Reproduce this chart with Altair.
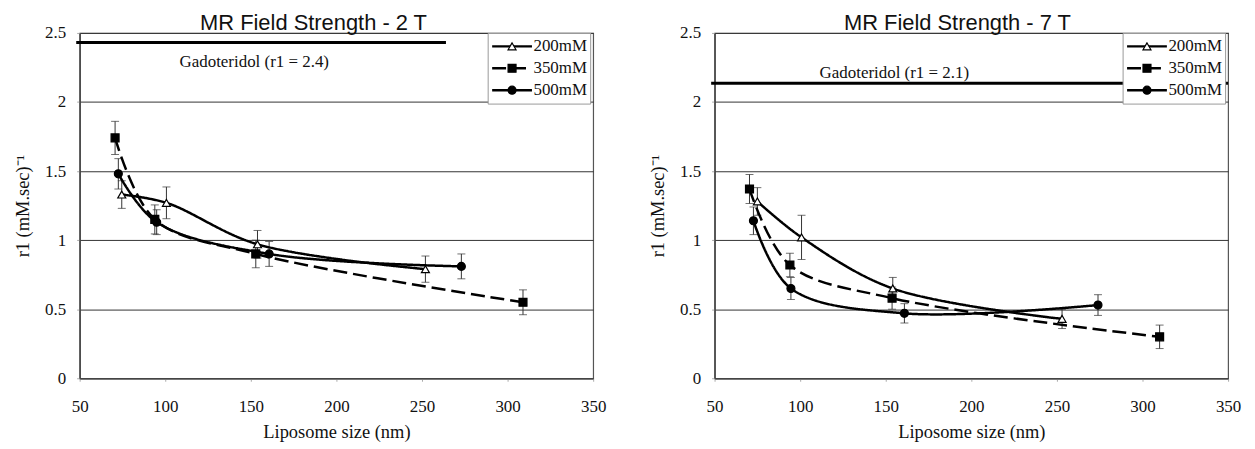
import altair as alt
import pandas as pd

concs = ["200mM", "350mM", "500mM"]
x_ticks = [50, 100, 150, 200, 250, 300, 350]
y_ticks = [0, 0.5, 1, 1.5, 2, 2.5]

# ---- 2 T panel ----
t2_size_200 = [74.6, 100.7, 153.9, 252.0]
t2_r1_200 = [1.33, 1.27, 0.97, 0.79]
t2_err_200 = [0.10, 0.115, 0.10, 0.095]
t2_size_350 = [70.7, 93.9, 152.9, 309.0]
t2_r1_350 = [1.74, 1.15, 0.90, 0.55]
t2_err_350 = [0.12, 0.105, 0.10, 0.09]
t2_size_500 = [72.6, 95.0, 160.7, 273.0]
t2_r1_500 = [1.48, 1.13, 0.90, 0.81]
t2_err_500 = [0.11, 0.09, 0.09, 0.09]

# ---- 7 T panel ----
t7_size_200 = [75.0, 100.8, 154.1, 253.0]
t7_r1_200 = [1.28, 1.02, 0.65, 0.43]
t7_err_200 = [0.10, 0.16, 0.08, 0.07]
t7_size_350 = [70.4, 94.0, 153.7, 310.0]
t7_r1_350 = [1.37, 0.82, 0.58, 0.30]
t7_err_350 = [0.105, 0.085, 0.08, 0.085]
t7_size_500 = [72.7, 94.6, 160.9, 274.0]
t7_r1_500 = [1.14, 0.65, 0.47, 0.53]
t7_err_500 = [0.10, 0.08, 0.07, 0.075]

# Gadoteridol reference lines
gado_x_start = [48, 48]
gado_x_end = [264, 350]
gado_y = [2.43, 2.135]
gado_labels = ["Gadoteridol (r1 = 2.4)", "Gadoteridol (r1 = 2.1)"]
gado_label_x = [152, 155]
gado_label_y = [2.29, 2.21]

titles = ["MR Field Strength - 2 T", "MR Field Strength - 7 T"]
title_dx = [-23, -14]

SERIF = "Liberation Serif"


def series_df(sizes, vals, errs):
    rows = []
    for c, s, v, e in zip(concs, sizes, vals, errs):
        for si, vi, ei in zip(s, v, e):
            rows.append({"conc": c, "conc2": c, "size": si, "r1": vi,
                         "lo": vi - ei, "hi": vi + ei})
    return pd.DataFrame(rows)


panels_data = [
    series_df([t2_size_200, t2_size_350, t2_size_500],
              [t2_r1_200, t2_r1_350, t2_r1_500],
              [t2_err_200, t2_err_350, t2_err_500]),
    series_df([t7_size_200, t7_size_350, t7_size_500],
              [t7_r1_200, t7_r1_350, t7_r1_500],
              [t7_err_200, t7_err_350, t7_err_500]),
]

W, H = 516, 347
xscale = alt.Scale(domain=[50, 350], nice=False, zero=False)
yscale = alt.Scale(domain=[0, 2.5], nice=False)
xaxis = alt.Axis(values=x_ticks, grid=False, title="Liposome size (nm)",
                 labelPadding=17, titlePadding=9, tickSize=3,
                 labelFlush=False)
yaxis = alt.Axis(values=y_ticks, grid=True, format="~g",
                 title="r1 (mM.sec)\u207b\u00b9", labelPadding=11,
                 titlePadding=12, tickSize=3, labelFlush=False)


def make_panel(i):
    df = panels_data[i]
    gdf = pd.DataFrame({"x1": [gado_x_start[i]], "x2": [gado_x_end[i]],
                        "gy": [gado_y[i]], "tx": [gado_label_x[i]],
                        "ty": [gado_label_y[i]], "label": [gado_labels[i]]})
    X = alt.X("size:Q", scale=xscale, axis=xaxis)
    Y = alt.Y("r1:Q", scale=yscale, axis=yaxis)

    gline = alt.Chart(gdf).mark_rule(strokeWidth=3, color="black").encode(
        x=alt.X("x1:Q", scale=xscale, axis=xaxis), x2="x2:Q",
        y=alt.Y("gy:Q", scale=yscale, axis=yaxis))
    gtext = alt.Chart(gdf).mark_text(font=SERIF, fontSize=17,
                                     color="#111").encode(
        x=alt.X("tx:Q", scale=xscale, axis=xaxis),
        y=alt.Y("ty:Q", scale=yscale, axis=yaxis), text="label:N")

    base = alt.Chart(df)
    bars = base.mark_rule(color="#333", strokeWidth=1).encode(
        x=X, y=alt.Y("lo:Q", scale=yscale, axis=yaxis), y2="hi:Q")
    cap_lo = base.mark_tick(orient="horizontal", size=8, thickness=1,
                            color="#333").encode(
        x=X, y=alt.Y("lo:Q", scale=yscale, axis=yaxis))
    cap_hi = base.mark_tick(orient="horizontal", size=8, thickness=1,
                            color="#333").encode(
        x=X, y=alt.Y("hi:Q", scale=yscale, axis=yaxis))

    line_legend = alt.Legend(
        title=None, orient="none", legendX=410, legendY=0,
        symbolType="stroke", symbolSize=1600, symbolStrokeWidth=2.5,
        symbolStrokeColor="black", clipHeight=21, rowPadding=1,
        padding=3, labelOffset=0, labelFont=SERIF, labelFontSize=17,
        labelColor="#111", strokeColor="#999", fillColor="white",
        zindex=1)
    lines = base.mark_line(interpolate="catmull-rom", strokeWidth=2.5,
                           color="black").encode(
        x=X, y=Y,
        strokeDash=alt.StrokeDash(
            "conc:N",
            scale=alt.Scale(domain=concs, range=[[1, 0], [14, 6], [1, 0]]),
            legend=line_legend))

    shape_legend = alt.Legend(
        title="", orient="none", legendX=410, legendY=0,
        symbolSize=64, symbolStrokeWidth=1.2, symbolStrokeColor="black",
        clipHeight=21, rowPadding=1, padding=3, symbolOffset=13,
        labelFont=SERIF, labelFontSize=17, labelOpacity=0, zindex=2)
    points = base.mark_point(filled=True, strokeWidth=1.2,
                             size=64, opacity=1).encode(
        x=X, y=Y,
        shape=alt.Shape("conc2:N", scale=alt.Scale(
            range=["triangle-up", "square", "circle"]),
            legend=shape_legend),
        fill=alt.Fill("conc2:N", scale=alt.Scale(
            range=["white", "black", "black"]),
            legend=shape_legend),
        stroke=alt.Stroke("conc2:N", scale=alt.Scale(
            range=["black", "black", "black"]),
            legend=shape_legend))

    return alt.layer(gline, gtext, bars, cap_lo, cap_hi, lines, points).properties(
        width=W, height=H,
        title=alt.TitleParams(titles[i], font="Liberation Sans", fontSize=22,
                              fontWeight="normal", color="#111",
                              anchor="middle", frame="group", dx=title_dx[i],
                              offset=-11))


chart = alt.hconcat(make_panel(0), make_panel(1), spacing=41).resolve_scale(
    strokeDash="independent", shape="independent", fill="independent",
    stroke="independent"
).properties(
    padding={"left": 5, "top": 2, "right": 5, "bottom": 0}
).configure_axis(
    labelFont=SERIF, labelFontSize=17, labelColor="#111",
    titleFont=SERIF, titleFontSize=18.5, titleFontWeight="normal",
    titleColor="#111", domainColor="#444", domainWidth=1.5,
    gridColor="#333", gridWidth=1, tickColor="#aaa"
).configure_view(stroke="#555", strokeWidth=1.2)

chart.save("out.html", embed_options={"renderer": "svg", "actions": False})
